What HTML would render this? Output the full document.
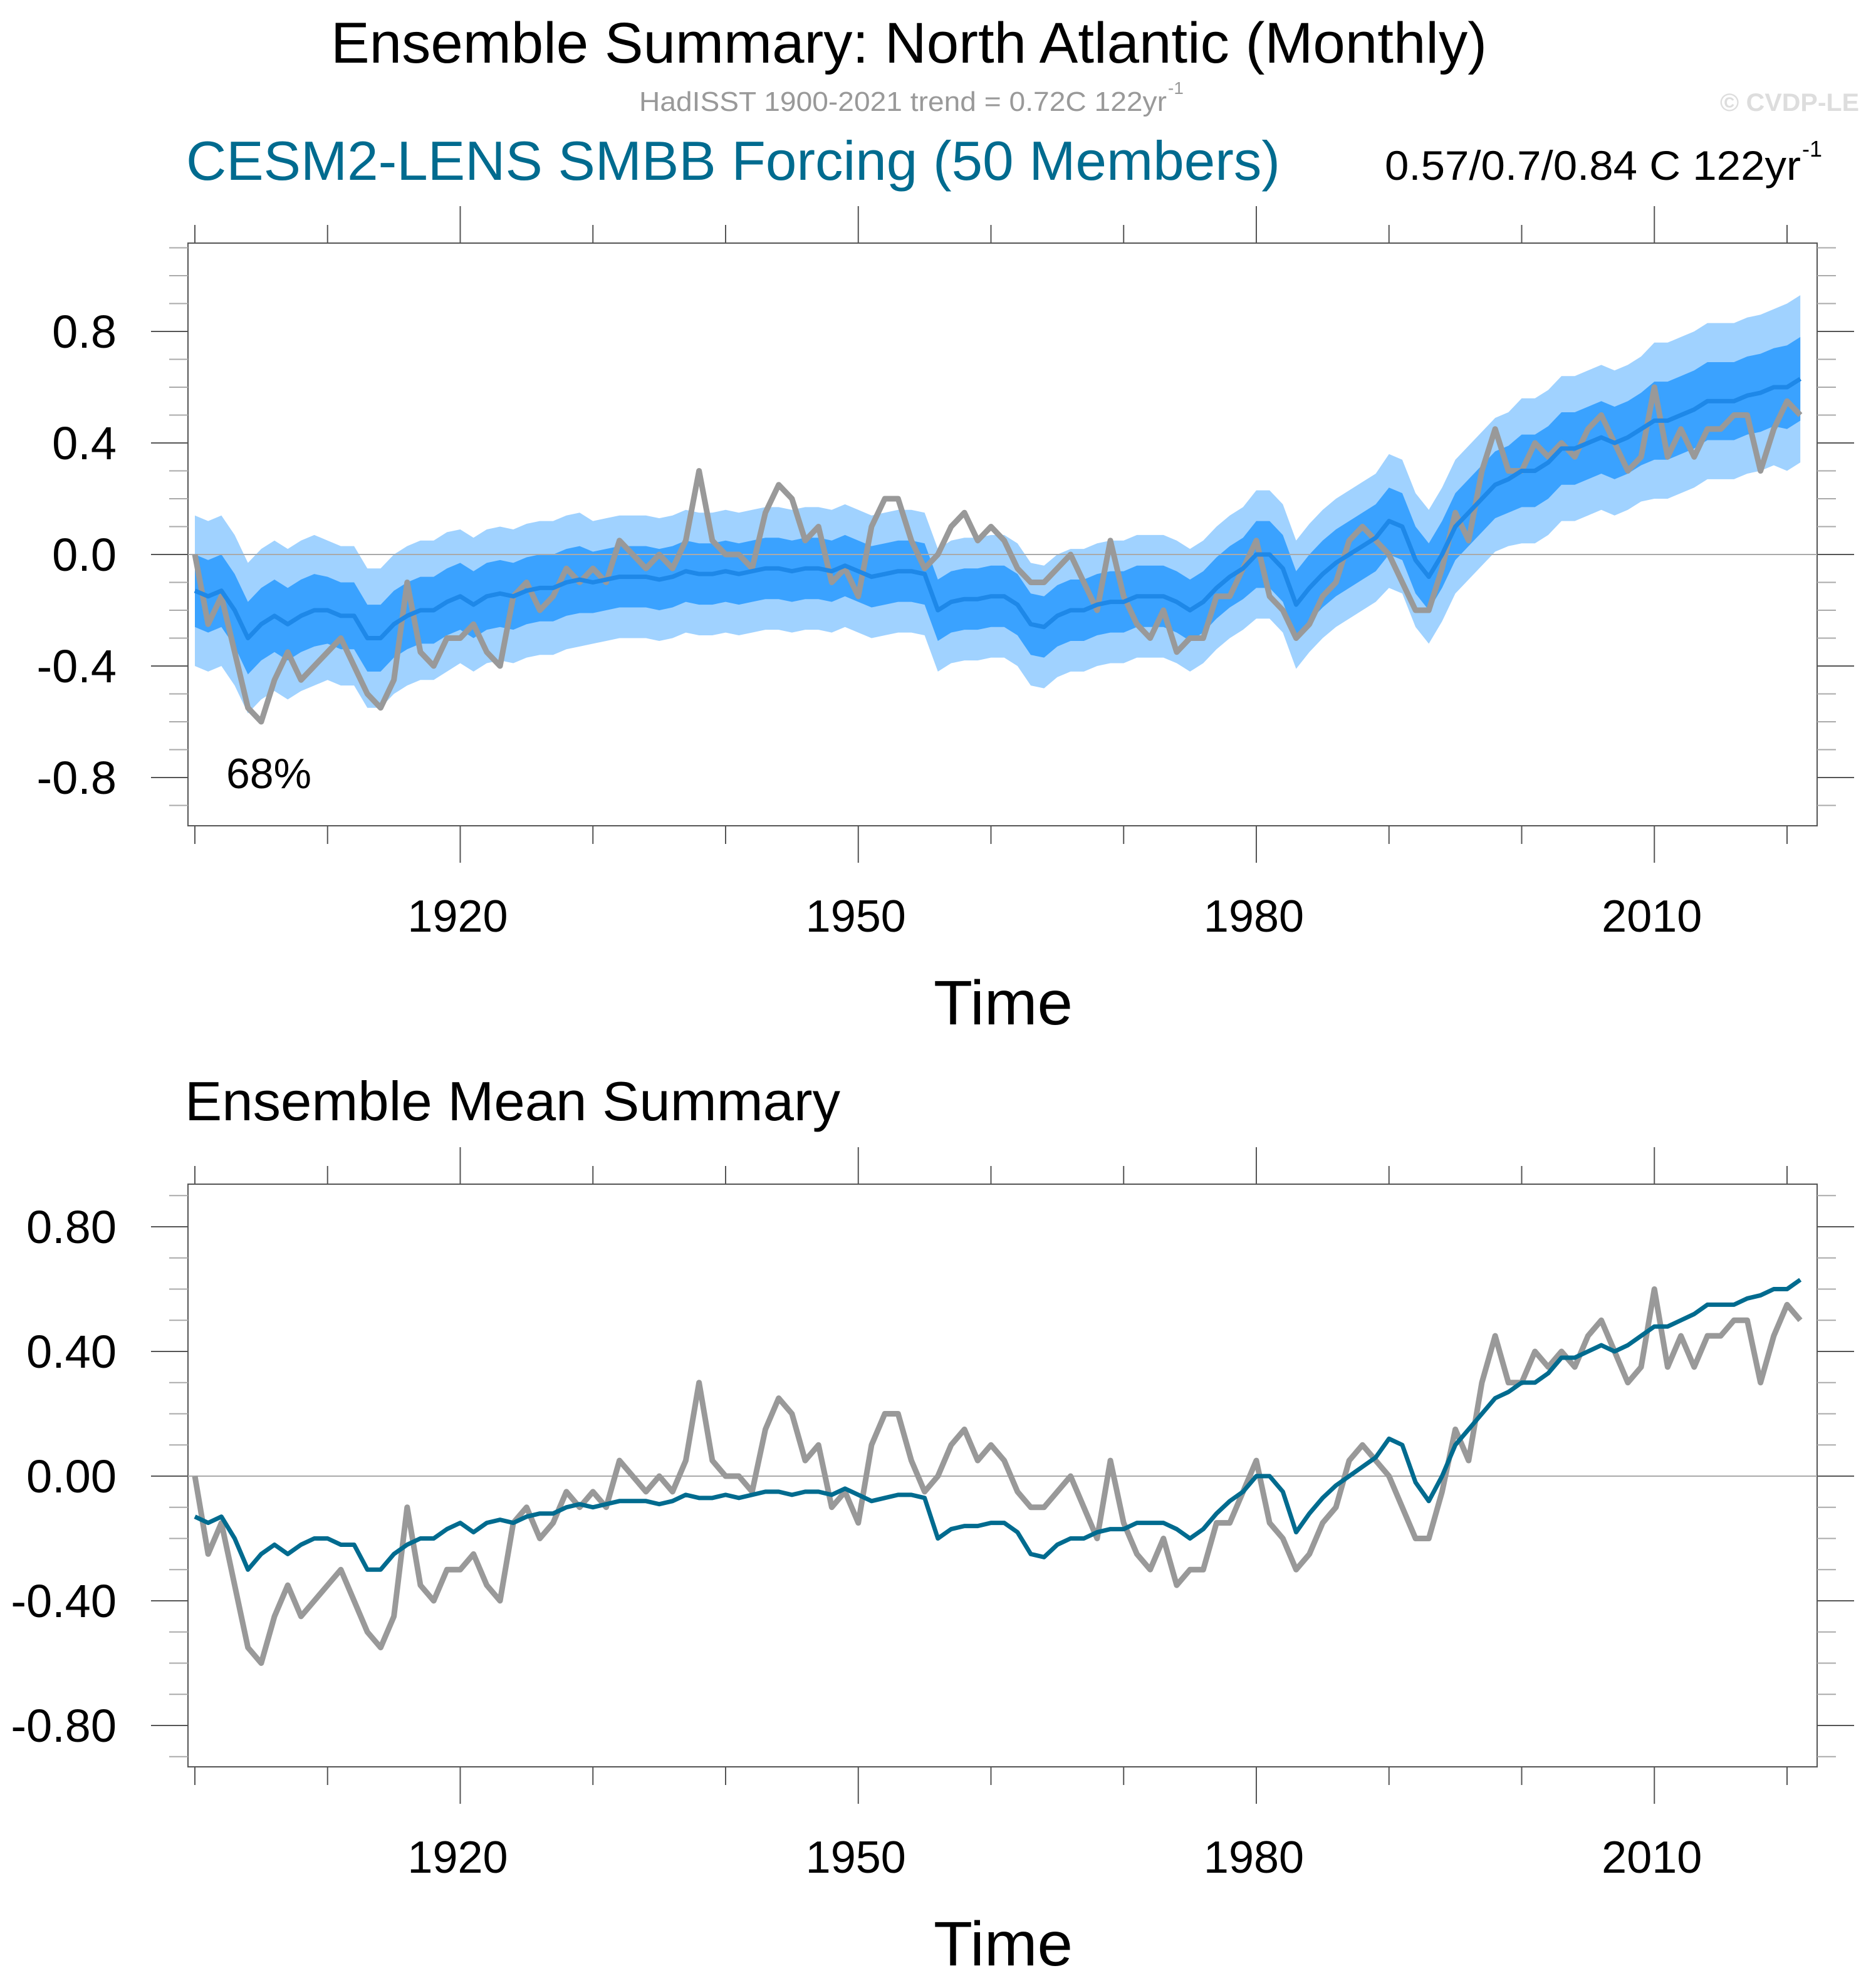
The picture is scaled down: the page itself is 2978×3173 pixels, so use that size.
<!DOCTYPE html>
<html><head><meta charset="utf-8"><style>
html,body{margin:0;padding:0;background:#fff;}
svg{display:block;font-family:"Liberation Sans",sans-serif;}
</style></head><body>
<svg id="fig" width="2978" height="3173" viewBox="0 0 2978 3173">
<text x="528" y="100" font-size="92" textLength="1845" lengthAdjust="spacingAndGlyphs">Ensemble Summary: North Atlantic (Monthly)</text>
<text x="1020" y="177" font-size="44" fill="#999" textLength="842" lengthAdjust="spacingAndGlyphs">HadISST 1900-2021 trend = 0.72C 122yr</text>
<text x="1864" y="150" font-size="28" fill="#999">-1</text>
<text x="2745" y="177" font-size="40" font-weight="bold" fill="#ddd" textLength="222" lengthAdjust="spacingAndGlyphs">© CVDP-LE</text>
<text x="297" y="287" font-size="88" fill="#006b8f" textLength="1746" lengthAdjust="spacingAndGlyphs">CESM2-LENS SMBB Forcing (50 Members)</text>
<text x="2210" y="287" font-size="66" textLength="664" lengthAdjust="spacingAndGlyphs">0.57/0.7/0.84 C 122yr</text>
<text x="2876" y="250" font-size="36">-1</text>
<text x="295" y="1788" font-size="88" textLength="1046" lengthAdjust="spacingAndGlyphs">Ensemble Mean Summary</text>
<g id="p1"></g>
<g id="p2"></g>
</svg>
<script>
const years=[];for(let y=1900;y<=2021;y++)years.push(y);
const obsValues=[0.0,-0.25,-0.15,-0.35,-0.55,-0.6,-0.45,-0.35,-0.45,-0.4,-0.35,-0.3,-0.4,-0.5,-0.55,-0.45,-0.1,-0.35,-0.4,-0.3,-0.3,-0.25,-0.35,-0.4,-0.15,-0.1,-0.2,-0.15,-0.05,-0.1,-0.05,-0.1,0.05,0.0,-0.05,0.0,-0.05,0.05,0.3,0.05,0.0,0.0,-0.05,0.15,0.25,0.2,0.05,0.1,-0.1,-0.05,-0.15,0.1,0.2,0.2,0.05,-0.05,0.0,0.1,0.15,0.05,0.1,0.05,-0.05,-0.1,-0.1,-0.05,0.0,-0.1,-0.2,0.05,-0.15,-0.25,-0.3,-0.2,-0.35,-0.3,-0.3,-0.15,-0.15,-0.05,0.05,-0.15,-0.2,-0.3,-0.25,-0.15,-0.1,0.05,0.1,0.05,0.0,-0.1,-0.2,-0.2,-0.05,0.15,0.05,0.3,0.45,0.3,0.3,0.4,0.35,0.4,0.35,0.45,0.5,0.4,0.3,0.35,0.6,0.35,0.45,0.35,0.45,0.45,0.5,0.5,0.3,0.45,0.55,0.5];
const meanValues=[-0.13,-0.15,-0.13,-0.2,-0.3,-0.25,-0.22,-0.25,-0.22,-0.2,-0.2,-0.22,-0.22,-0.3,-0.3,-0.25,-0.22,-0.2,-0.2,-0.17,-0.15,-0.18,-0.15,-0.14,-0.15,-0.13,-0.12,-0.12,-0.1,-0.09,-0.1,-0.09,-0.08,-0.08,-0.08,-0.09,-0.08,-0.06,-0.07,-0.07,-0.06,-0.07,-0.06,-0.05,-0.05,-0.06,-0.05,-0.05,-0.06,-0.04,-0.06,-0.08,-0.07,-0.06,-0.06,-0.07,-0.2,-0.17,-0.16,-0.16,-0.15,-0.15,-0.18,-0.25,-0.26,-0.22,-0.2,-0.2,-0.18,-0.17,-0.17,-0.15,-0.15,-0.15,-0.17,-0.2,-0.17,-0.12,-0.08,-0.05,0.0,0.0,-0.05,-0.18,-0.12,-0.07,-0.03,0.0,0.03,0.06,0.12,0.1,-0.02,-0.08,0.0,0.1,0.15,0.2,0.25,0.27,0.3,0.3,0.33,0.38,0.38,0.4,0.42,0.4,0.42,0.45,0.48,0.48,0.5,0.52,0.55,0.55,0.55,0.57,0.58,0.6,0.6,0.63];
const decades=[1900,1910,1920,1930,1940,1950,1960,1970,1980,1990,2000,2010,2020];
const innerHalf=[0.13,0.12,0.12,0.11,0.11,0.11,0.11,0.11,0.12,0.12,0.13,0.14,0.15];
const outerHalf=[0.27,0.25,0.24,0.22,0.22,0.22,0.22,0.22,0.23,0.24,0.26,0.28,0.3];
const labeledYears=[1920,1950,1980,2010];
const topTicks=[0.8,0.4,0.0,-0.4,-0.8];
const topTickLabels=["0.8","0.4","0.0","-0.4","-0.8"];
const botTicks=[0.8,0.4,0.0,-0.4,-0.8];
const botTickLabels=["0.80","0.40","0.00","-0.40","-0.80"];

const NS="http://www.w3.org/2000/svg";
function mk(parent,tag,attrs){const e=document.createElementNS(NS,tag);for(const k in attrs)e.setAttribute(k,attrs[k]);parent.appendChild(e);return e;}
const X0=300,X1=2900;
function xs(yr){return 311+(yr-1900)*21.175;}
function halfAt(arr,yr){return arr[Math.min(arr.length-1,Math.floor((yr-1900)/10))];}

function panel(g,top,bot,y0,perUnit,ticks,labels,labelBase,timeBase,showBand){
  const ys=v=>y0-v*perUnit;
  const fr=mk(g,'rect',{x:X0,y:top,width:X1-X0,height:bot-top,fill:'#fff',stroke:'#555','stroke-width':2});
  
  
  if(showBand){
    let up='',lo='';
    years.forEach((yr,i)=>{up+=(i?'L':'M')+xs(yr)+','+ys(meanValues[i]+halfAt(outerHalf,yr));});
    for(let i=years.length-1;i>=0;i--){lo+='L'+xs(years[i])+','+ys(meanValues[i]-halfAt(outerHalf,years[i]));}
    const ob=mk(g,'path',{d:up+lo+'Z',fill:'#a0d2ff'});
    
    
    up='';lo='';
    years.forEach((yr,i)=>{up+=(i?'L':'M')+xs(yr)+','+ys(meanValues[i]+halfAt(innerHalf,yr));});
    for(let i=years.length-1;i>=0;i--){lo+='L'+xs(years[i])+','+ys(meanValues[i]-halfAt(innerHalf,years[i]));}
    const ib=mk(g,'path',{d:up+lo+'Z',fill:'#3aa2ff'});
    
    
  }
  const zl=mk(g,'line',{x1:X0,x2:X1,y1:ys(0),y2:ys(0),stroke:'#aaa','stroke-width':2});
  
  
  let d='';years.forEach((yr,i)=>{d+=(i?'L':'M')+xs(yr)+','+ys(obsValues[i]);});
  const ol=mk(g,'path',{d:d,fill:'none',stroke:'#999','stroke-width':9,'stroke-linejoin':'round'});
  
  
  d='';years.forEach((yr,i)=>{d+=(i?'L':'M')+xs(yr)+','+ys(meanValues[i]);});
  const ml=mk(g,'path',{d:d,fill:'none',stroke:showBand?'#1e88e8':'#006b8f','stroke-width':7,'stroke-linejoin':'round'});
  
  
  decades.forEach(yr=>{
    const L=labeledYears.includes(yr)?59:29;
    mk(g,'line',{x1:xs(yr),x2:xs(yr),y1:top,y2:top-L,stroke:'#555','stroke-width':2});
    mk(g,'line',{x1:xs(yr),x2:xs(yr),y1:bot,y2:bot+L,stroke:'#555','stroke-width':2});
  });
  labeledYears.forEach(yr=>{
    const t=mk(g,'text',{x:xs(yr)-4,y:labelBase,'font-size':72,'text-anchor':'middle'});
    t.textContent=yr;
    
    
  });
  for(let k=-12;k<=12;k++){
    const v=k/10;const y=ys(v);
    if(y<top-1||y>bot+1)continue;
    const major=(k%4===0);const L=major?59:30;
    mk(g,'line',{x1:X0,x2:X0-L,y1:y,y2:y,stroke:major?'#555':'#aaa','stroke-width':2});
    mk(g,'line',{x1:X1,x2:X1+L,y1:y,y2:y,stroke:major?'#555':'#aaa','stroke-width':2});
  }
  ticks.forEach((v,i)=>{
    const t=mk(g,'text',{x:186,y:ys(v)+26,'font-size':74,'text-anchor':'end'});
    t.textContent=labels[i];
    
    
  });
  const tt=mk(g,'text',{x:1490,y:timeBase,'font-size':100,textLength:222,lengthAdjust:'spacingAndGlyphs'});
  tt.textContent='Time';
  
  
}
panel(document.getElementById('p1'),388,1318,885,445,topTicks,topTickLabels,1487,1635,true);
panel(document.getElementById('p2'),1890,2820,2356,497.5,botTicks,botTickLabels,2989,3137,false);
const pc=mk(document.getElementById('p1'),'text',{x:361,y:1258,'font-size':68,textLength:136,lengthAdjust:'spacingAndGlyphs'});
pc.textContent='68%';


</script>
</body></html>
